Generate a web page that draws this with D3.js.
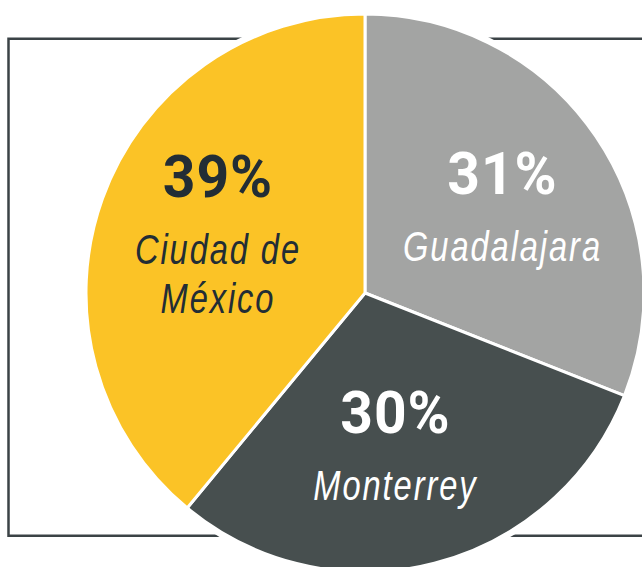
<!DOCTYPE html>
<html>
<head>
<meta charset="utf-8">
<script src="https://cdn.jsdelivr.net/npm/d3@7"></script>
<style>
  html, body { margin: 0; padding: 0; background: #fff; }
  svg { display: block; }
</style>
</head>
<body>
<svg id="chart"></svg>
<script>
// Data
const cities = ["Guadalajara", "Monterrey", "Ciudad de México"];
const shares = [31, 30, 39];
const labelLines = [["Guadalajara"], ["Monterrey"], ["Ciudad de", "México"]];

const width = 642, height = 567;
const cx = 365, cy = 293, radius = 279;

const color = d3.scaleOrdinal()
  .domain(cities)
  .range(["#a3a4a3", "#474f4f", "#fbc326"]);

const textColor = d3.scaleOrdinal()
  .domain(cities)
  .range(["#ffffff", "#ffffff", "#222d35"]);

const svg = d3.select("#chart")
  .attr("width", width)
  .attr("height", height);

// Frame behind the pie
svg.append("rect")
  .attr("x", 8.5)
  .attr("y", 38.75)
  .attr("width", 700)
  .attr("height", 497)
  .attr("fill", "none")
  .attr("stroke", "#3b4346")
  .attr("stroke-width", 2.5);

const g = svg.append("g")
  .attr("transform", `translate(${cx},${cy})`);

// white halo separating the pie from the frame
g.append("circle")
  .attr("r", radius + 5)
  .attr("fill", "#fff");

const data = cities.map((c, i) => ({ city: c, value: shares[i], lines: labelLines[i] }));

const pie = d3.pie()
  .sort(null)
  .value(d => d.value);

const arc = d3.arc()
  .innerRadius(0)
  .outerRadius(radius);

const labelArc = d3.arc()
  .innerRadius(160)
  .outerRadius(160);

const arcs = pie(data);

g.selectAll("path")
  .data(arcs)
  .join("path")
  .attr("d", arc)
  .attr("fill", d => color(d.data.city))
  .attr("stroke", "#fff")
  .attr("stroke-width", 3)
  .attr("stroke-linejoin", "round");

// labels sit a little clockwise of the slice middle
const nudge = 0.06;
const labelPos = d => labelArc.centroid({ startAngle: d.startAngle + nudge, endAngle: d.endAngle + nudge });

const labels = g.selectAll("g.label")
  .data(arcs)
  .join("g")
  .attr("class", "label")
  .attr("transform", d => `translate(${labelPos(d)})`)
  .attr("fill", d => textColor(d.data.city))
  .attr("text-anchor", "middle");

const lineGap = 49;
// no condensed face installed, so squeeze normal ones horizontally
const topOf = d => -17 - (d.data.lines.length - 1) * 16;

labels.append("text")
  .attr("y", topOf)
  .attr("transform", "scale(0.95,1)")
  .style("font-family", "Roboto, 'Liberation Sans', sans-serif")
  .style("font-weight", "bold")
  .style("font-size", "60px")
  .style("letter-spacing", "1px")
  .text(d => d.data.value + "%");

labels.append("text")
  .attr("class", "name")
  .attr("transform", "scale(0.76,1)")
  .style("font-family", "'Liberation Sans', Arial, sans-serif")
  .style("font-style", "italic")
  .style("font-size", "43px")
  .style("letter-spacing", "2.5px")
  .each(function(d) {
    const top = topOf(d);
    d3.select(this).selectAll("tspan")
      .data(d.data.lines)
      .join("tspan")
      .attr("x", 0)
      .attr("y", (l, i) => top + 67 + i * lineGap)
      .text(l => l);
  });
</script>
</body>
</html>
